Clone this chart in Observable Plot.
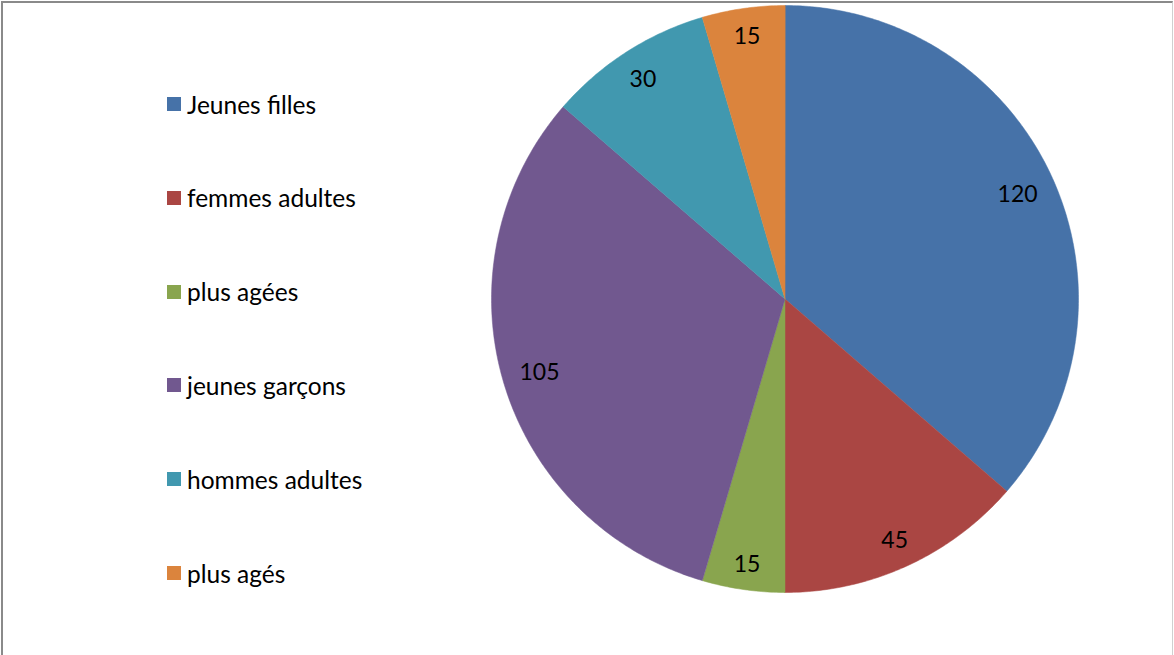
<!DOCTYPE html>
<html>
<head>
<meta charset="utf-8">
<script src="https://cdn.jsdelivr.net/npm/d3@7"></script>
<script src="https://cdn.jsdelivr.net/npm/@observablehq/plot@0.6"></script>
<style>
  html, body { margin: 0; padding: 0; background: #fff; }
  #wrap { position: relative; width: 1174px; height: 655px; overflow: hidden; font-family: Lato, "Open Sans", sans-serif; }
  #frame { position: absolute; left: 1px; top: 1px; width: 1172px; height: 660px; border-top: 2px solid #8a8a8a; border-left: 2px solid #8a8a8a; border-right: 1px solid #d0d0d0; box-sizing: border-box; pointer-events: none; }
  .leg { position: absolute; left: 167px; display: flex; align-items: center; font-size: 24.5px; color: #000; white-space: nowrap; }
  .leg .sw { width: 14px; height: 14px; margin-right: 6px; }
</style>
</head>
<body>
<div id="wrap"><div id="chart"></div><div id="legend"></div><div id="frame"></div></div>
<script>
const categories = ["Jeunes filles", "femmes adultes", "plus agées", "jeunes garçons", "hommes adultes", "plus agés"];
const values = [120, 45, 15, 105, 30, 15];
const colors = ["#4672A8", "#AA4643", "#89A54E", "#71588F", "#4198AF", "#DB843D"];

const W = 1174, H = 655;
const mL = 491, mR = 96, mT = 5, mB = 63;
const R = (W - mL - mR) / 2;

const total = d3.sum(values);
const slices = [];
const labels = [];
let acc = 0;
values.forEach((v, i) => {
  const a0 = acc / total * 2 * Math.PI;
  acc += v;
  const a1 = acc / total * 2 * Math.PI;
  const n = Math.max(4, Math.ceil((a1 - a0) / 0.01));
  slices.push({cat: categories[i], x: 0, y: 0, k: -1});
  for (let j = 0; j <= n; j++) {
    const a = a0 + (a1 - a0) * j / n;
    slices.push({cat: categories[i], x: Math.sin(a), y: Math.cos(a), k: j});
  }
  const m = (a0 + a1) / 2;
  // inside-end placement: keep the label box a fixed gap inside the rim
  const halfW = String(v).length * 6.4, halfH = 8;
  const d = (R - 17 - halfW * Math.abs(Math.sin(m)) - halfH * Math.abs(Math.cos(m))) / R;
  labels.push({cat: categories[i], value: v, x: d * Math.sin(m), y: d * Math.cos(m)});
});

const chart = Plot.plot({
  width: W,
  height: H,
  marginLeft: mL,
  marginRight: mR,
  marginTop: mT,
  marginBottom: mB,
  x: {domain: [-1, 1], axis: null},
  y: {domain: [-1, 1], axis: null},
  color: {domain: categories, range: colors},
  style: {background: "transparent", fontFamily: "Lato, 'Open Sans', sans-serif"},
  marks: [
    Plot.line(slices, {x: "x", y: "y", z: "cat", fill: "cat", stroke: "cat", strokeWidth: 0.5, curve: "linear-closed"}),
    Plot.text(labels, {x: "x", y: "y", text: d => String(d.value), fontSize: 23, dy: 2, fill: "#000"})
  ]
});
document.getElementById("chart").appendChild(chart);

const legend = document.getElementById("legend");
categories.forEach((c, i) => {
  const row = document.createElement("div");
  row.className = "leg";
  row.style.top = (104 + i * 93.8 - 14) + "px";
  row.style.height = "28px";
  const sw = document.createElement("div");
  sw.className = "sw";
  sw.style.background = colors[i];
  const t = document.createElement("span");
  t.textContent = c;
  row.appendChild(sw);
  row.appendChild(t);
  legend.appendChild(row);
});
</script>
</body>
</html>
